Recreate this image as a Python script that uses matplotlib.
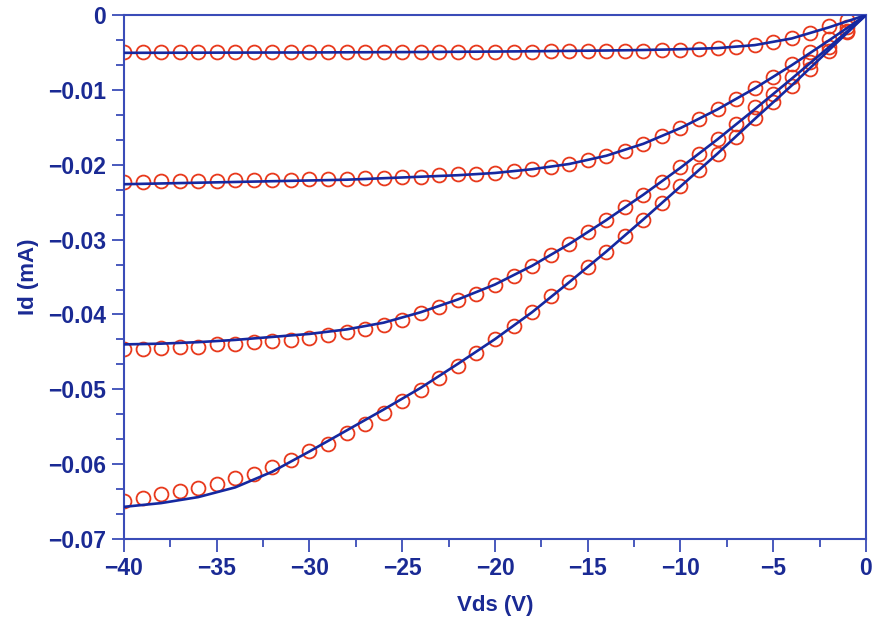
import matplotlib
matplotlib.use('Agg')
import matplotlib.pyplot as plt
from matplotlib.ticker import AutoMinorLocator

# measured points, Vds = -40 ... -1 V
vds_meas = list(range(-40, 0))

id_meas_1 = [-0.0050, -0.0050, -0.0050, -0.0050, -0.0050, -0.0050, -0.0050, -0.0050, -0.0050, -0.0050,
             -0.00498, -0.00498, -0.00497, -0.00497, -0.00496, -0.00495, -0.00494, -0.00493, -0.00492, -0.00491,
             -0.0049, -0.00489, -0.00488, -0.00486, -0.00484, -0.00482, -0.0048, -0.00477, -0.00474, -0.0047,
             -0.00465, -0.00457, -0.00446, -0.00428, -0.00403, -0.00363, -0.00313, -0.00235, -0.00148, -0.0007]

id_meas_2 = [-0.0223, -0.0223, -0.0222, -0.0222, -0.0222, -0.0222, -0.0221, -0.0221, -0.0220, -0.0220,
             -0.0219, -0.0219, -0.0219, -0.0218, -0.0218, -0.0217, -0.0216, -0.0214, -0.0213, -0.0212,
             -0.0211, -0.0209, -0.0206, -0.0203, -0.0199, -0.0194, -0.0188, -0.0181, -0.0172, -0.0162,
             -0.0151, -0.0139, -0.0125, -0.0112, -0.0097, -0.0083, -0.0065, -0.0049, -0.0032, -0.0016]

id_meas_3 = [-0.0446, -0.0446, -0.0445, -0.0443, -0.0443, -0.0440, -0.0439, -0.0437, -0.0436, -0.0434,
             -0.0431, -0.0428, -0.0424, -0.0420, -0.0414, -0.0407, -0.0398, -0.0390, -0.0381, -0.0373,
             -0.0361, -0.0348, -0.0335, -0.0320, -0.0306, -0.0290, -0.0274, -0.0257, -0.0240, -0.0223,
             -0.0203, -0.0185, -0.0165, -0.0145, -0.0123, -0.0105, -0.0083, -0.0063, -0.0043, -0.0021]

id_meas_4 = [-0.0649, -0.0645, -0.0640, -0.0636, -0.0632, -0.0626, -0.0618, -0.0613, -0.0604, -0.0595,
             -0.0583, -0.0573, -0.0558, -0.0546, -0.0531, -0.0515, -0.0501, -0.0485, -0.0469, -0.0451,
             -0.0433, -0.0415, -0.0397, -0.0376, -0.0356, -0.0336, -0.0316, -0.0295, -0.0274, -0.0251,
             -0.0229, -0.0207, -0.0185, -0.0163, -0.0138, -0.0116, -0.0095, -0.0072, -0.0048, -0.0023]

# model curves, Vds = -40 ... 0 V in 2 V steps
vds_model = list(range(-40, 1, 2))

id_model_1 = [-0.00505, -0.00504, -0.00503, -0.00502, -0.00501, -0.0050, -0.00498, -0.00496, -0.00494, -0.00491,
              -0.00488, -0.00484, -0.00479, -0.00474, -0.00467, -0.00457, -0.00442, -0.00402, -0.00313, -0.00165, 0.0]
id_model_2 = [-0.0226, -0.0225, -0.0224, -0.0223, -0.0222, -0.0221, -0.0220, -0.0218, -0.0216, -0.0214,
              -0.0211, -0.0206, -0.0199, -0.0188, -0.0172, -0.0151, -0.0126, -0.0098, -0.0067, -0.0034, 0.0]
id_model_3 = [-0.0440, -0.0439, -0.0437, -0.0434, -0.0430, -0.0426, -0.0420, -0.0411, -0.0397, -0.0380,
              -0.0360, -0.0335, -0.0306, -0.0274, -0.0240, -0.0204, -0.0166, -0.0126, -0.0085, -0.0043, 0.0]
id_model_4 = [-0.0657, -0.0652, -0.0644, -0.0631, -0.0610, -0.0583, -0.0555, -0.0527, -0.0498, -0.0466,
              -0.0433, -0.0397, -0.0357, -0.0316, -0.0273, -0.0229, -0.0185, -0.0139, -0.0094, -0.0047, 0.0]

xtick_vals = [-40, -35, -30, -25, -20, -15, -10, -5, 0]
ytick_vals = [-0.07, -0.06, -0.05, -0.04, -0.03, -0.02, -0.01, 0]
ytick_labels = ['\u22120.07', '\u22120.06', '\u22120.05', '\u22120.04', '\u22120.03', '\u22120.02', '\u22120.01', '0']

text_col = '#1a2a94'
axis_col = '#3a4cb8'
line_col = '#1528a0'
mark_col = '#e8391c'

plt.rcParams['font.family'] = ['Liberation Sans', 'DejaVu Sans']
plt.rcParams['font.weight'] = 'bold'

fig = plt.figure(figsize=(8.78, 6.21), dpi=100)
ax = fig.add_axes([0.1412, 0.132, 0.8451, 0.8438])

for meas in [id_meas_1, id_meas_2, id_meas_3, id_meas_4]:
    ax.plot(vds_meas, meas, linestyle='none', marker='o', markersize=10,
            markerfacecolor='none', markeredgecolor=mark_col, markeredgewidth=1.3, zorder=2)

for model in [id_model_1, id_model_2, id_model_3, id_model_4]:
    ax.plot(vds_model, model, color=line_col, linewidth=1.9, zorder=3)

ax.set_xlim(-40, 0)
ax.set_ylim(-0.07, 0)
ax.set_xticks(xtick_vals)
ax.set_yticks(ytick_vals)
ax.set_yticklabels(ytick_labels)
ax.xaxis.set_minor_locator(AutoMinorLocator(2))
ax.yaxis.set_minor_locator(AutoMinorLocator(3))

ax.tick_params(axis='both', which='major', direction='out', length=9, width=1.3,
               color=axis_col, labelcolor=text_col, labelsize=16.5, pad=4)
ax.tick_params(axis='both', which='minor', direction='out', length=6, width=1.3, color=axis_col)
ax.tick_params(top=False, right=False)

for sp in ax.spines.values():
    sp.set_color(axis_col)
    sp.set_linewidth(1.5)

ax.set_xlabel('Vds (V)', fontsize=16, fontweight='bold', color=text_col, labelpad=11)
ax.set_ylabel('Id (mA)', fontsize=16, fontweight='bold', color=text_col, labelpad=6)

fig.savefig('out.png', dpi=100)
